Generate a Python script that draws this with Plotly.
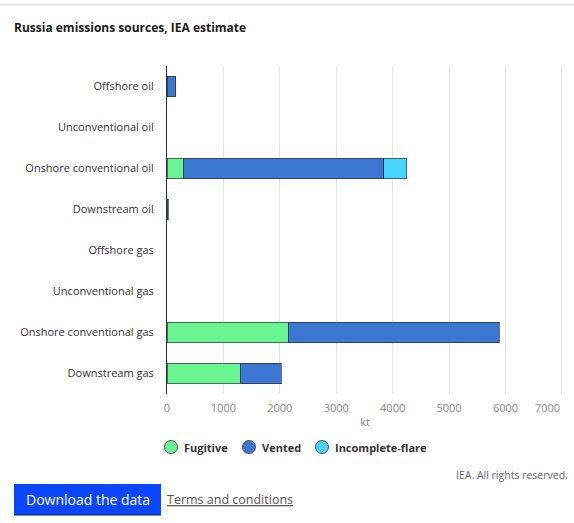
import plotly.graph_objects as go

# Emission sources and their methane emissions by type (kt)
categories = [
    "Offshore oil",
    "Unconventional oil",
    "Onshore conventional oil",
    "Downstream oil",
    "Offshore gas",
    "Unconventional gas",
    "Onshore conventional gas",
    "Downstream gas",
]
fugitive = [0, 0, 284, 0, 0, 0, 2146, 1295]
vented = [155, 0, 3558, 20, 0, 0, 3748, 733]
incomplete_flare = [0, 0, 408, 0, 0, 0, 0, 0]

series_names = ["Fugitive", "Vented", "Incomplete-flare"]
series_values = [fugitive, vented, incomplete_flare]
series_colors = ["#68f592", "#3c78d3", "#48d6ff"]

x_ticks = [0, 1000, 2000, 3000, 4000, 5000, 6000, 7000]
# the last label is drawn right-aligned to its gridline so it stays on the page
x_tick_text = [str(v) for v in x_ticks[:-1]] + [""]

W, H = 574, 523
L, R, T, B = 167, 11, 66, 129
pw, ph = W - L - R, H - T - B


def px(x):
    return (x - L) / pw


def py(y):
    return (H - B - y) / ph


font_family = "Open Sans, Arial, sans-serif"

fig = go.Figure()
for name, vals, col in zip(series_names, series_values, series_colors):
    fig.add_trace(go.Bar(
        y=categories, x=[v if v else None for v in vals],
        name=name, orientation="h",
        marker=dict(color=col, line=dict(color="rgba(40,40,40,0.65)", width=1)),
        width=0.49, showlegend=False,
    ))

# legend row: circle swatch + bold label per series
legend_x = [171, 249, 322]
legend_y = 447
shapes = []
annotations = []
for name, col, lx in zip(series_names, series_colors, legend_x):
    shapes.append(dict(
        type="circle", xref="paper", yref="paper",
        xsizemode="pixel", ysizemode="pixel",
        xanchor=px(lx), yanchor=py(legend_y),
        x0=-6.5, x1=6.5, y0=-6.5, y1=6.5,
        fillcolor=col, line=dict(color="#555555", width=1),
    ))
    annotations.append(dict(
        text="<b>" + name + "</b>", xref="paper", yref="paper",
        x=px(lx + 11), y=py(legend_y), xanchor="left", yanchor="middle",
        showarrow=False, font=dict(size=11, color="#333333"),
    ))

annotations.append(dict(
    text=str(x_ticks[-1]), xref="x", yref="paper",
    x=x_ticks[-1], y=py(407), xanchor="right", yanchor="middle",
    showarrow=False, font=dict(size=11, color="#888888"),
))

shapes += [
    # header separator
    dict(type="line", xref="paper", yref="paper",
         x0=px(0), x1=px(W), y0=py(4.5), y1=py(4.5),
         line=dict(color="#e4e4e4", width=2)),
    # download button
    dict(type="rect", xref="paper", yref="paper",
         x0=px(14), x1=px(161), y0=py(484), y1=py(515),
         fillcolor="#0a46ff", line=dict(width=0), layer="above"),
    dict(type="line", xref="paper", yref="paper",
         x0=px(14), x1=px(161), y0=py(515), y1=py(515),
         line=dict(color="#1a1a4a", width=1)),
]
annotations += [
    dict(text="IEA. All rights reserved.", xref="paper", yref="paper",
         x=px(570), y=py(475), xanchor="right", yanchor="middle",
         showarrow=False, font=dict(size=10.5, color="#666666")),
    dict(text="Download the data", xref="paper", yref="paper",
         x=px(87.5), y=py(499.5), xanchor="center", yanchor="middle",
         showarrow=False, font=dict(size=14, color="white")),
    dict(text="<u>Terms and conditions</u>", xref="paper", yref="paper",
         x=px(165), y=py(499.5), xanchor="left", yanchor="middle",
         showarrow=False, font=dict(size=12.5, color="#555555")),
]

fig.update_layout(
    width=W, height=H,
    margin=dict(l=L, r=R, t=T, b=B, autoexpand=False),
    paper_bgcolor="white", plot_bgcolor="white",
    barmode="stack",
    showlegend=False,
    font=dict(family=font_family, size=11, color="#333333"),
    title=dict(
        text="<b>Russia emissions sources, IEA estimate</b>",
        x=14 / W, xanchor="left", xref="container",
        y=1 - 28 / H, yanchor="middle", yref="container",
        font=dict(size=12, color="#1a1a1a"),
    ),
    xaxis=dict(
        range=[0, 7020], tickvals=x_ticks, ticktext=x_tick_text,
        automargin=False,
        showgrid=True, gridcolor="#e6e6e6", gridwidth=1,
        zeroline=False, showline=False,
        ticklabelstandoff=6,
        tickfont=dict(size=11, color="#888888"),
        title=dict(text="kt", font=dict(size=11, color="#888888"), standoff=4),
    ),
    yaxis=dict(
        autorange="reversed", showgrid=False, zeroline=False,
        showline=True, linecolor="#333333", linewidth=1,
        automargin=False, ticklabelstandoff=10,
        tickfont=dict(size=11, color="#333333"),
    ),
    shapes=shapes,
    annotations=annotations,
)

fig.write_html("out.html")
